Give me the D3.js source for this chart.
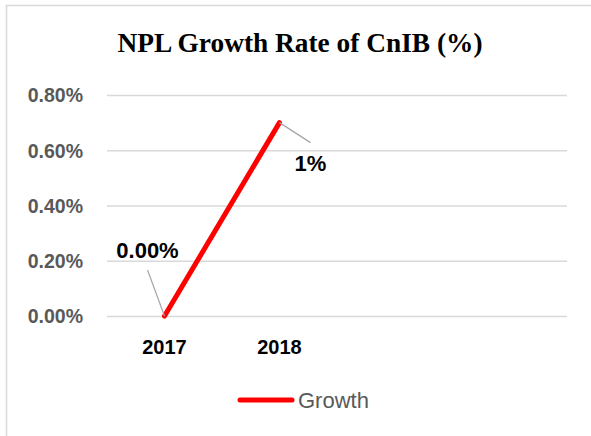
<!DOCTYPE html>
<html>
<head>
<meta charset="utf-8">
<script src="https://cdn.jsdelivr.net/npm/d3@7/dist/d3.min.js"></script>
<style>
  html, body { margin: 0; padding: 0; background: #fff; }
  svg { display: block; }
</style>
</head>
<body>
<svg id="chart" width="591" height="436"></svg>
<script>
// ---- data ----
const categories = ["2017", "2018"];
const growth = [0.0, 0.007];
const dataLabels = ["0.00%", "1%"];
const yTicks = [0, 0.002, 0.004, 0.006, 0.008];
const title = "NPL Growth Rate of CnIB (%)";
const seriesName = "Growth";

// ---- layout ----
const W = 591, H = 436;
const plot = { left: 107, right: 567, top: 95, bottom: 316 };
const slotCount = 4;

const svg = d3.select("#chart");

// chart border
svg.append("rect")
  .attr("x", 6.5).attr("y", 5.5)
  .attr("width", W + 10).attr("height", H + 10)
  .attr("fill", "#fff").attr("stroke", "#d9d9d9").attr("stroke-width", 1.5);

// title
svg.append("text")
  .attr("x", 300).attr("y", 52)
  .attr("text-anchor", "middle")
  .attr("font-family", "'Liberation Serif', 'Times New Roman', serif")
  .attr("font-weight", "bold")
  .attr("font-size", 28)
  .attr("textLength", 365)
  .attr("lengthAdjust", "spacingAndGlyphs")
  .attr("fill", "#000")
  .text(title);

const x = d3.scaleBand()
  .domain(d3.range(slotCount))
  .range([plot.left, plot.right]);

const y = d3.scaleLinear()
  .domain([0, 0.008])
  .range([plot.bottom, plot.top]);

const xPos = i => x(i) + x.bandwidth() / 2;

// gridlines + y axis labels
const yAxis = d3.axisLeft(y)
  .tickValues(yTicks)
  .tickFormat(d3.format(".2%"))
  .tickSize(-(plot.right - plot.left))
  .tickPadding(24);

const gy = svg.append("g")
  .attr("transform", `translate(${plot.left},0)`)
  .call(yAxis);
gy.select(".domain").remove();
gy.selectAll(".tick line").attr("stroke", "#d9d9d9").attr("stroke-width", 1.3);
gy.selectAll(".tick text")
  .attr("font-family", "'Liberation Sans', Arial, sans-serif")
  .attr("font-weight", "bold")
  .attr("font-size", 19.5)
  .attr("fill", "#595959")
  .attr("dy", "0.35em");

// x axis labels
const xAxis = d3.axisBottom(x)
  .tickFormat(i => categories[i] || "")
  .tickSize(0)
  .tickPadding(24);
const gx = svg.append("g")
  .attr("transform", `translate(0,${plot.bottom})`)
  .call(xAxis);
gx.select(".domain").remove();
gx.selectAll(".tick text")
  .attr("font-family", "'Liberation Sans', Arial, sans-serif")
  .attr("font-weight", "bold")
  .attr("font-size", 20)
  .attr("fill", "#000");

// line
const pts = categories.map((c, i) => [xPos(i), y(growth[i])]);
svg.append("path")
  .datum(pts)
  .attr("d", d3.line())
  .attr("fill", "none")
  .attr("stroke", "#ff0000")
  .attr("stroke-width", 5)
  .attr("stroke-linejoin", "round")
  .attr("stroke-linecap", "round");

// data labels with leader lines
const labelOffsets = [
  { lx: -17, ly: -46, tx: -17, ty: -58 },
  { lx: 31, ly: 20, tx: 31, ty: 48 }
];
categories.forEach((c, i) => {
  const px = xPos(i), py = y(growth[i]);
  const o = labelOffsets[i];
  svg.append("line")
    .attr("x1", px).attr("y1", py)
    .attr("x2", px + o.lx).attr("y2", py + o.ly)
    .attr("stroke", "#a6a6a6").attr("stroke-width", 1.2);
  svg.append("text")
    .attr("x", px + o.tx).attr("y", py + o.ty)
    .attr("text-anchor", "middle")
    .attr("font-family", "'Liberation Sans', Arial, sans-serif")
    .attr("font-weight", "bold")
    .attr("font-size", 22)
    .attr("fill", "#000")
    .text(dataLabels[i]);
});

// legend
const lg = svg.append("g");
lg.append("line")
  .attr("x1", 240).attr("x2", 292)
  .attr("y1", 400).attr("y2", 400)
  .attr("stroke", "#ff0000").attr("stroke-width", 5)
  .attr("stroke-linecap", "round");
lg.append("text")
  .attr("x", 298).attr("y", 400)
  .attr("dy", "0.35em")
  .attr("font-family", "'Liberation Sans', Arial, sans-serif")
  .attr("font-size", 22)
  .attr("fill", "#595959")
  .text(seriesName);
</script>
</body>
</html>
